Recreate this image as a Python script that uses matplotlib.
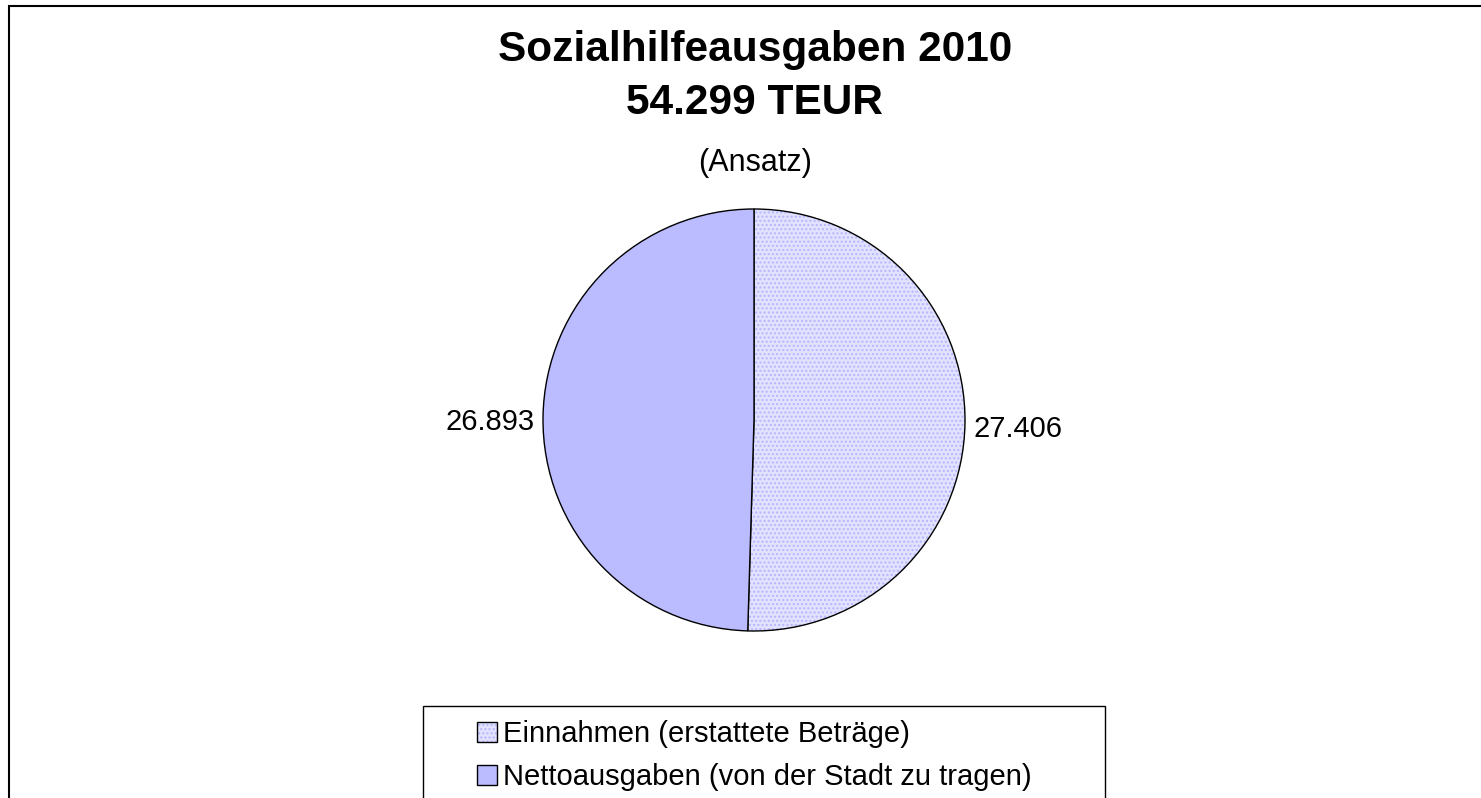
import matplotlib.pyplot as plt
import matplotlib.patches as patches

# data
categories = ['Einnahmen (erstattete Beträge)', 'Nettoausgaben (von der Stadt zu tragen)']
values = [27406, 26893]
value_labels = ['27.406', '26.893']
title_lines = ['Sozialhilfeausgaben 2010', '54.299 TEUR']
subtitle = '(Ansatz)'

plt.rcParams['font.family'] = ['Liberation Sans', 'DejaVu Sans']
plt.rcParams['hatch.color'] = '#b4b4ff'

W, H = 1481, 798
fig = plt.figure(figsize=(W / 100, H / 100), dpi=100)
fig.patch.set_facecolor('white')

# outer chart frame (cut off at right and bottom)
fig.add_artist(patches.Rectangle((9 / W, -0.1), 1.2, (H - 6) / H + 0.1,
                                 transform=fig.transFigure, fill=False,
                                 edgecolor='black', linewidth=1.5))

# pie axes: centre (754, 420), radius 211 px, limits +-1.25
cx, cy, r = 754, 420, 211
half = 1.25 * r
ax = fig.add_axes([(cx - half) / W, (H - cy - half) / H, 2 * half / W, 2 * half / H])

wedges, texts = ax.pie(values, labels=value_labels, startangle=90, counterclock=False,
                       colors=['#e2e2ff', '#bbbbff'], labeldistance=1.04,
                       wedgeprops=dict(edgecolor='black', linewidth=1.0),
                       textprops=dict(fontsize=21))
wedges[0].set_hatch('....')
wedges[0]._hatch_color = (0.71, 0.71, 1.0, 1.0)
# nudge value labels down a little, as in the reference
for t in texts:
    x, y = t.get_position()
    t.set_position((x, y - 0.025))
ax.set_xlim(-1.25, 1.25)
ax.set_ylim(-1.25, 1.25)

# titles
fig.text(755 / W, 1 - 50 / H, title_lines[0], ha='center', va='center',
         fontsize=30.5, fontweight='bold')
fig.text(755 / W, 1 - 103 / H, title_lines[1], ha='center', va='center',
         fontsize=30.5, fontweight='bold')
fig.text(755 / W, 1 - 163 / H, subtitle, ha='center', va='center', fontsize=22)

# legend box
fig.add_artist(patches.Rectangle((423 / W, -0.1), (1105 - 423) / W, (H - 706) / H + 0.1,
                                 transform=fig.transFigure, fill=False,
                                 edgecolor='black', linewidth=1.0))
handles = []
for i, c in enumerate(categories):
    p = patches.Patch(facecolor=wedges[i].get_facecolor(), edgecolor='black',
                      hatch='....' if i == 0 else None, label=c)
    if i == 0:
        p._hatch_color = (0.71, 0.71, 1.0, 1.0)
    handles.append(p)
fig.legend(handles=handles, loc='upper left', bbox_to_anchor=(477 / W, 1 - 720 / H),
           frameon=False, fontsize=21, handlelength=0.7, handleheight=0.7,
           handletextpad=0.2, labelspacing=0.52, borderpad=0, borderaxespad=0)

fig.savefig('out.png', dpi=100)
